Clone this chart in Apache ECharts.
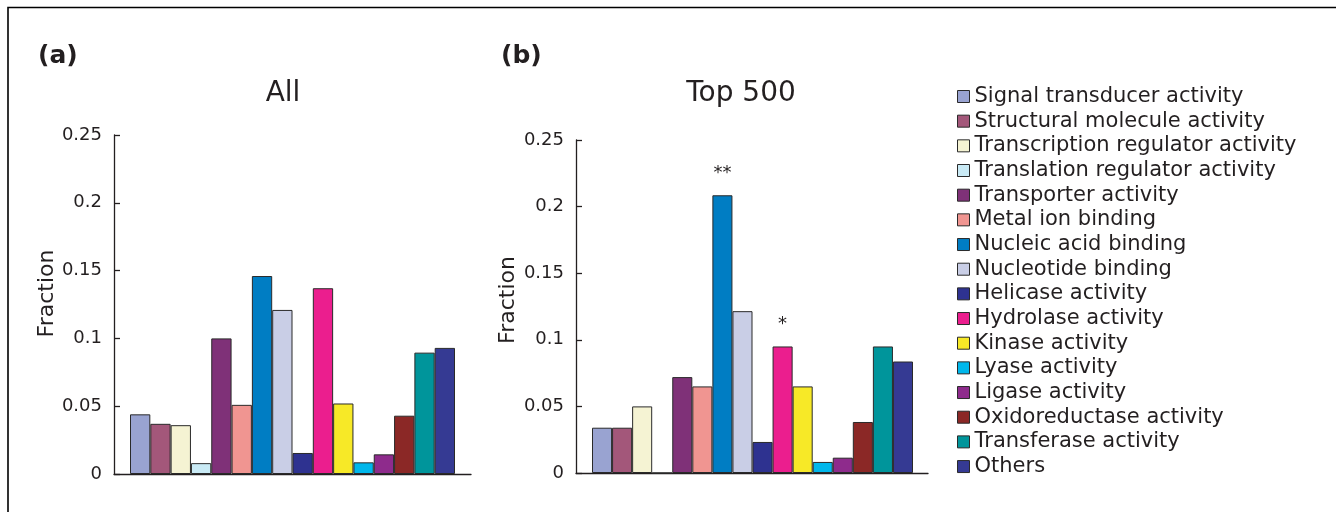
<!DOCTYPE html>
<html>
<head>
<meta charset="utf-8">
<script src="https://cdn.jsdelivr.net/npm/echarts@6/dist/echarts.min.js"></script>
<style>
html,body{margin:0;padding:0;background:#fff;}
#chart{width:1336px;height:512px;}
</style>
</head>
<body>
<div id="chart"></div>
<script>
// ---- data ----
var categories = [
  'Signal transducer activity',
  'Structural molecule activity',
  'Transcription regulator activity',
  'Translation regulator activity',
  'Transporter activity',
  'Metal ion binding',
  'Nucleic acid binding',
  'Nucleotide binding',
  'Helicase activity',
  'Hydrolase activity',
  'Kinase activity',
  'Lyase activity',
  'Ligase activity',
  'Oxidoreductase activity',
  'Transferase activity',
  'Others'
];
var allValues = [0.044, 0.037, 0.036, 0.008, 0.100, 0.051, 0.146, 0.121, 0.0155, 0.137, 0.052, 0.0086, 0.0145, 0.043, 0.0895, 0.093];
var top500Values = [0.034, 0.034, 0.050, 0, 0.072, 0.065, 0.2085, 0.1215, 0.0233, 0.095, 0.065, 0.0083, 0.0115, 0.0383, 0.095, 0.0837];
var top500Marks = ['', '', '', '', '', '', '**', '', '', '*', '', '', '', '', '', ''];
var yTicks = [0, 0.05, 0.1, 0.15, 0.2, 0.25];
var panelTitles = ['All', 'Top 500'];
var panelLetters = ['(a)', '(b)'];
var colors = ['#99a3d1', '#a3577a', '#f5f3d3', '#c9eaf5', '#7f3178', '#f09591', '#007dc3', '#c9cee6',
              '#2e3290', '#eb1e8e', '#f7e927', '#00b7eb', '#8e2b8c', '#8b2826', '#00959b', '#353a93'];

// ---- chart ----
var FONT = 'DejaVu Sans';
var TXT = '#231f20';
var chart = echarts.init(document.getElementById('chart'), null, {renderer: 'canvas'});

var yMin = yTicks[0], yMax = yTicks[yTicks.length - 1], yInt = yTicks[1] - yTicks[0];

function frameY(gridIndex, nameGap, namePad) {
  return {
    type: 'value', gridIndex: gridIndex, min: yMin, max: yMax, interval: yInt,
    axisLine: {show: true, lineStyle: {color: '#231f20', width: 1.3}},
    axisTick: {show: true, inside: true, length: 6, lineStyle: {color: '#231f20', width: 1.3}},
    splitLine: {show: false},
    axisLabel: {fontFamily: FONT, fontSize: 18, color: TXT, margin: 12},
    name: 'Fraction', nameLocation: 'middle', nameRotate: 90, nameGap: nameGap,
    nameTextStyle: {fontFamily: FONT, fontSize: 22, color: TXT, padding: namePad}
  };
}
function hiddenY(gridIndex) {
  return {type: 'value', gridIndex: gridIndex, min: yMin, max: yMax, interval: yInt, show: false, splitLine: {show: false}};
}
function frameX(gridIndex) {
  return {
    type: 'value', gridIndex: gridIndex, min: 0, max: 1,
    axisLine: {show: true, onZero: false, lineStyle: {color: '#231f20', width: 1.3}},
    axisTick: {show: false}, axisLabel: {show: false}, splitLine: {show: false}
  };
}
function barX(gridIndex) {
  return {type: 'category', gridIndex: gridIndex, data: categories, show: false, boundaryGap: true};
}

var series = [];
categories.forEach(function (name, i) {
  series.push({
    name: name, type: 'bar', xAxisIndex: 1, yAxisIndex: 1,
    barGap: '-100%', barCategoryGap: '0%',
    data: allValues.map(function (v, j) { return j === i ? v : '-'; }),
    itemStyle: {color: colors[i], borderColor: '#2a2a2a', borderWidth: 1}
  });
  series.push({
    name: name, type: 'bar', xAxisIndex: 3, yAxisIndex: 3,
    barGap: '-100%', barCategoryGap: '0%',
    data: top500Values.map(function (v, j) { return j === i ? v : '-'; }),
    itemStyle: {color: colors[i], borderColor: '#2a2a2a', borderWidth: 1},
    label: {
      show: top500Marks[i] !== '', position: 'top', distance: 13,
      fontFamily: FONT, fontSize: 18, color: TXT,
      formatter: function (p) { return top500Marks[p.dataIndex]; }
    }
  });
});

var option = {
  animation: false,
  backgroundColor: '#ffffff',
  textStyle: {fontFamily: FONT},
  title: [
    {text: panelLetters[0], left: 33, top: 39, textStyle: {fontFamily: FONT, fontSize: 25, fontWeight: 'bold', color: TXT}},
    {text: panelLetters[1], left: 496, top: 39, textStyle: {fontFamily: FONT, fontSize: 25, fontWeight: 'bold', color: TXT}},
    {text: panelTitles[0], left: 278, textAlign: 'center', top: 75, textStyle: {fontFamily: FONT, fontSize: 28, fontWeight: 'normal', color: TXT}},
    {text: panelTitles[1], left: 736, textAlign: 'center', top: 75, textStyle: {fontFamily: FONT, fontSize: 28, fontWeight: 'normal', color: TXT}}
  ],
  legend: {
    orient: 'vertical', left: 952, top: 81,
    data: categories,
    icon: 'rect', itemWidth: 12, itemHeight: 12, itemGap: 3.67,
    itemStyle: {borderColor: '#2a2a2a', borderWidth: 1},
    textStyle: {fontFamily: FONT, fontSize: 21, lineHeight: 21, color: TXT, padding: [0, 0, 0, 0]},
    selectedMode: false
  },
  grid: [
    {left: 114, top: 135, width: 357, height: 339},
    {left: 130, top: 135, width: 325, height: 339},
    {left: 576, top: 140, width: 352, height: 333},
    {left: 592, top: 140, width: 321, height: 333}
  ],
  xAxis: [frameX(0), barX(1), frameX(2), barX(3)],
  yAxis: [frameY(0, 52, [0, 0, 0, 22]), hiddenY(1), frameY(2, 57, [0, 0, 0, 13]), hiddenY(3)],
  series: series,
  graphic: [{
    type: 'polyline', silent: true,
    shape: {points: [[8, 512], [8, 7.5], [1336, 7.5]]},
    style: {stroke: '#000', lineWidth: 1.6, fill: null}
  }]
};
chart.setOption(option);
</script>
</body>
</html>
